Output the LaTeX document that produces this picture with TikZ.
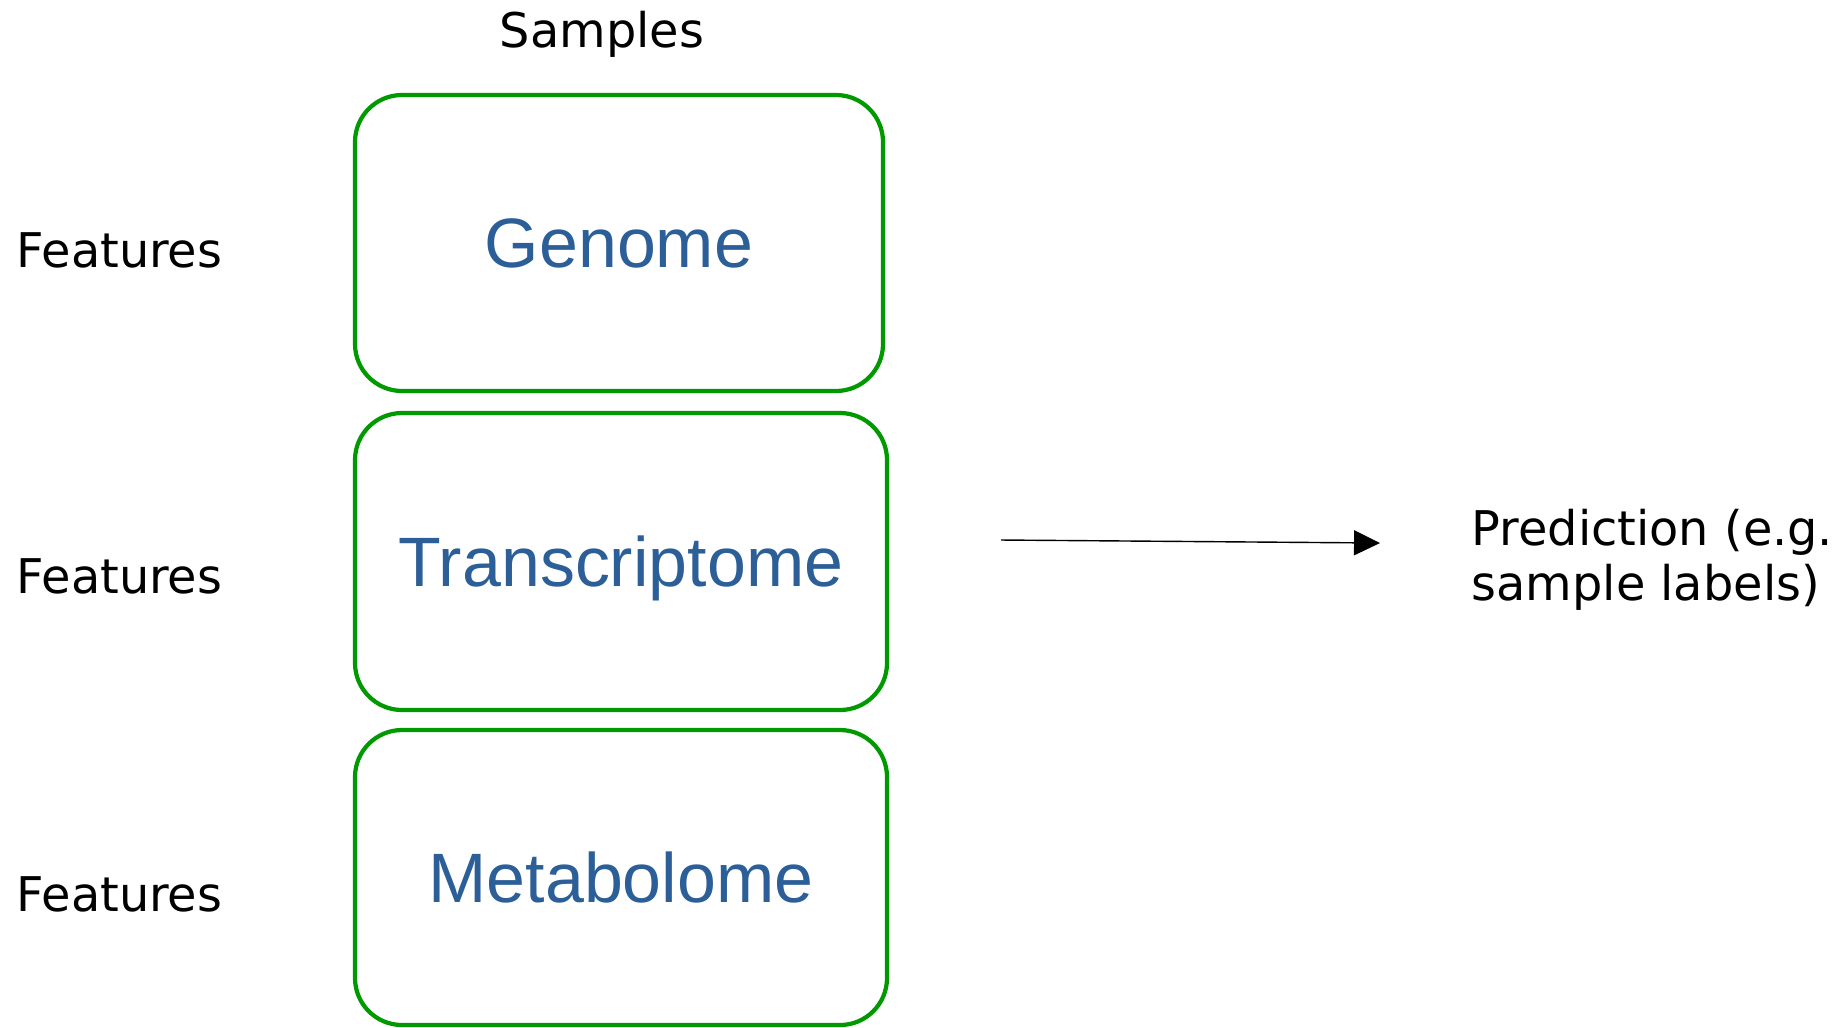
\documentclass[tikz,border=0pt]{standalone}
\usepackage{fontspec}
\setmainfont{DejaVu Sans}
\newfontfamily\omicsfont{Liberation Sans}
\usepackage{tikz}
\usetikzlibrary{arrows.meta,positioning,calc}
\definecolor{boxgreen}{RGB}{0,153,0}
\definecolor{omicsblue}{RGB}{44,95,151}

\begin{document}
\begin{tikzpicture}[
  omicsbox/.style={draw=boxgreen,line width=1.2pt,rounded corners=0.47cm,
    text=omicsblue,font=\omicsfont\fontsize{19.9}{23}\selectfont,inner sep=0pt,text depth=0pt},
  plainlabel/.style={font=\fontsize{13.6}{15.6}\selectfont,inner sep=0pt},
  predarrow/.style={black,line width=0.4pt,-{Triangle[length=0.26cm,width=0.25cm]}}
]
% ==========================================
\useasboundingbox (0,0) rectangle (18.43,-10.27);
%
\node[omicsbox,minimum width=5.28cm,minimum height=2.96cm] (genome) at (6.19,-2.43) {Genome};
\node[omicsbox,minimum width=5.32cm,minimum height=2.97cm] (transcriptome) at (6.21,-5.615) {Transcriptome};
\node[omicsbox,minimum width=5.32cm,minimum height=2.95cm] (metabolome) at (6.21,-8.775) {Metabolome};
%
\node[plainlabel] (samples) at (6.02,-0.345) {Samples};
\node[plainlabel,anchor=west] (featA) at (0.16,-2.50) {Features};
\node[plainlabel,anchor=west] (featB) at (0.16,-5.76) {Features};
\node[plainlabel,anchor=west] (featC) at (0.16,-8.94) {Features};
%
\node[plainlabel,anchor=west,align=left] (prediction) at (14.71,-5.595) {Prediction (e.g.\\sample labels)};
%
\coordinate (arrfrom) at (10.01,-5.40);
\coordinate (arrto) at (13.80,-5.43);
\draw[predarrow] (arrfrom) -- (arrto);%Arrow.
% =============================================
\end{tikzpicture}
\end{document}
